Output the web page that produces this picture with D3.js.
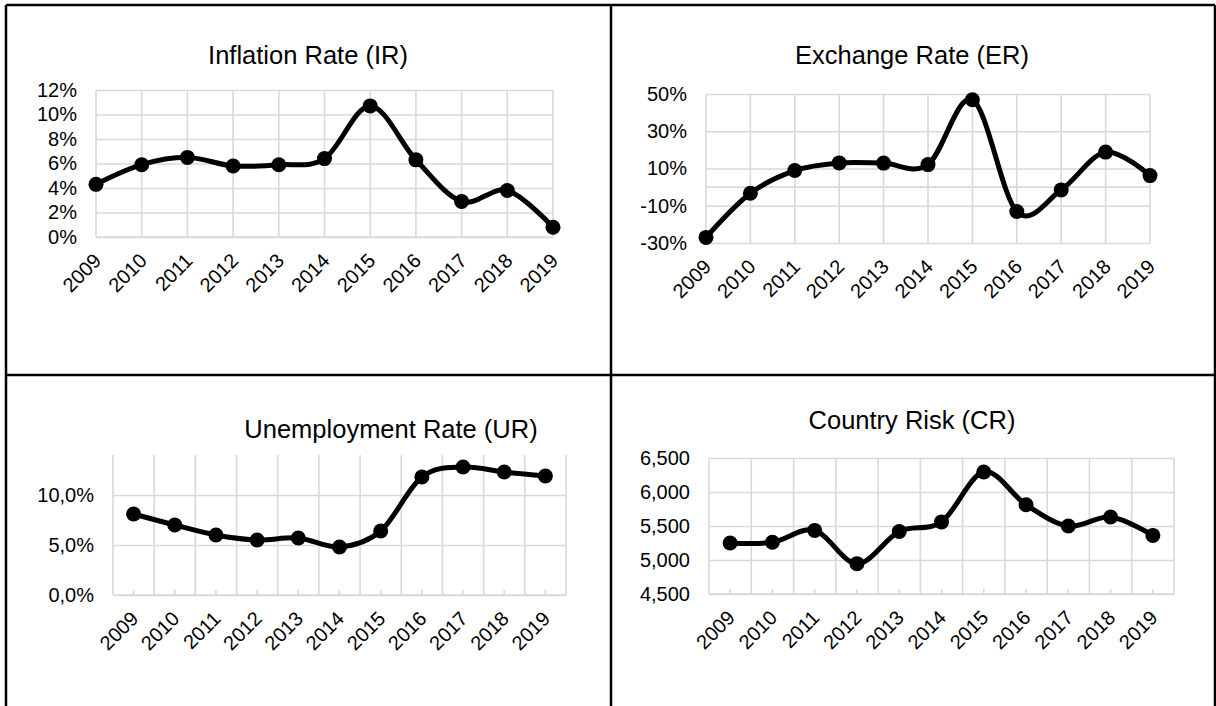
<!DOCTYPE html>
<html>
<head>
<meta charset="utf-8">
<script src="https://cdn.jsdelivr.net/npm/d3@7"></script>
<style>
    body { margin: 0; background: #fff; }
    text { font-family: "Liberation Sans", Arial, sans-serif; fill: #000; }
</style>
</head>
<body>
<svg id="chart" width="1216" height="706"></svg>
<script>
const years = ["2009", "2010", "2011", "2012", "2013", "2014", "2015", "2016", "2017", "2018", "2019"];

const inflation = [4.3, 5.9, 6.5, 5.8, 5.9, 6.4, 10.7, 6.3, 2.9, 3.8, 0.8];
const exchange = [-27, -3.3, 8.9, 13, 12.9, 12.1, 46.9, -13.1, -1.5, 18.8, 6.2];
const unemployment = [8.1, 7.0, 6.0, 5.5, 5.7, 4.8, 6.4, 11.8, 12.8, 12.3, 11.9];
const countryRisk = [5250, 5260, 5435, 4946, 5420, 5560, 6294, 5813, 5500, 5632, 5362];

const irTicks = [0, 2, 4, 6, 8, 10, 12];
const erTicks = [-30, -10, 10, 30, 50];
const urTicks = [0, 5, 10];
const crTicks = [4500, 5000, 5500, 6000, 6500];

const gridColor = "#d9d9d9";

class LinePanel {
    constructor(svg, opts) {
        this.svg = svg;
        this.opts = opts;
    }

    draw() {
        const o = this.opts;
        const g = this.svg.append("g");
        const data = years.map((y, i) => ({ year: y, value: o.values[i] }));

        let x;
        if (o.band) {
            x = d3.scaleBand().domain(years).range([o.left, o.right]);
        } else {
            x = d3.scalePoint().domain(years).range([o.left, o.right]);
        }
        const off = o.band ? x.bandwidth() / 2 : 0;
        const y = d3.scaleLinear().domain(o.domain).range([o.bottom, o.top]);

        // vertical grid
        let vx = years.map(d => x(d));
        if (o.band) vx.push(o.right);
        g.append("g").selectAll("line")
            .data(vx)
            .join("line")
            .attr("x1", d => d).attr("x2", d => d)
            .attr("y1", o.top).attr("y2", o.bottom)
            .attr("stroke", gridColor)
            .attr("stroke-width", 1.6);

        // y axis + horizontal grid
        const yAxis = g.append("g")
            .attr("transform", `translate(${o.left},0)`)
            .call(d3.axisLeft(y)
                .tickValues(o.ticks)
                .tickSize(-(o.right - o.left))
                .tickPadding(19)
                .tickFormat(o.format));
        yAxis.select(".domain").remove();
        yAxis.selectAll(".tick line").attr("stroke", gridColor).attr("stroke-width", 1.6);
        yAxis.selectAll(".tick text").style("font-size", "20px");

        // category axis line
        const base = o.base !== undefined ? o.base : o.domain[0];
        g.append("line")
            .attr("x1", o.left).attr("x2", o.right)
            .attr("y1", y(base)).attr("y2", y(base))
            .attr("stroke", gridColor)
            .attr("stroke-width", 1.6);

        // x labels
        const xAxis = g.append("g")
            .attr("transform", `translate(0,${o.bottom})`)
            .call(d3.axisBottom(x).tickSize(o.band ? -5 : 0));
        xAxis.select(".domain").remove();
        xAxis.selectAll(".tick line").attr("stroke", gridColor).attr("stroke-width", 1.6);
        xAxis.selectAll(".tick text")
            .attr("x", 0).attr("y", 0)
            .attr("dy", "0.35em")
            .attr("text-anchor", "end")
            .attr("transform", "translate(1,20) rotate(-45)")
            .style("font-size", "20px");

        // title
        g.append("text")
            .attr("x", o.titleX)
            .attr("y", o.titleY)
            .attr("text-anchor", "middle")
            .style("font-size", "25.5px")
            .text(o.title);

        const line = d3.line()
            .x(d => x(d.year) + off)
            .y(d => y(d.value))
            .curve(d3.curveCatmullRom.alpha(0));

        g.append("path")
            .datum(data)
            .attr("d", line)
            .attr("fill", "none")
            .attr("stroke", "#000")
            .attr("stroke-width", 5)
            .attr("stroke-linejoin", "round");

        g.append("g").selectAll("circle")
            .data(data)
            .join("circle")
            .attr("cx", d => x(d.year) + off)
            .attr("cy", d => y(d.value))
            .attr("r", 7.5)
            .attr("fill", "#000");
    }
}

const svg = d3.select("#chart");

// table borders
const borders = [
    [6, 5, 1215, 5], [6, 5, 6, 706], [1215, 5, 1215, 706],
    [611, 5, 611, 706], [6, 375, 1215, 375]
];
svg.append("g").selectAll("line")
    .data(borders)
    .join("line")
    .attr("x1", d => d[0]).attr("y1", d => d[1])
    .attr("x2", d => d[2]).attr("y2", d => d[3])
    .attr("stroke", "#000")
    .attr("stroke-width", 2.5);

const pct = d => d + "%";
const pctComma = d => d.toFixed(1).replace(".", ",") + "%";
const thousands = d3.format(",");

new LinePanel(svg, {
    title: "Inflation Rate (IR)", titleX: 308, titleY: 64,
    values: inflation, ticks: irTicks, domain: [0, 12], format: pct,
    left: 96, right: 553, top: 90, bottom: 237, band: false
}).draw();

new LinePanel(svg, {
    title: "Exchange Rate (ER)", titleX: 912, titleY: 64,
    values: exchange, ticks: erTicks, domain: [-30, 50], base: 0, format: pct,
    left: 706, right: 1150, top: 94, bottom: 243, band: false
}).draw();

new LinePanel(svg, {
    title: "Unemployment Rate (UR)", titleX: 391, titleY: 438,
    values: unemployment, ticks: urTicks, domain: [0, 14], format: pctComma,
    left: 113, right: 566, top: 455, bottom: 595, band: true
}).draw();

new LinePanel(svg, {
    title: "Country Risk (CR)", titleX: 912, titleY: 429,
    values: countryRisk, ticks: crTicks, domain: [4500, 6500], format: thousands,
    left: 709, right: 1174, top: 458, bottom: 594, band: true
}).draw();
</script>
</body>
</html>
